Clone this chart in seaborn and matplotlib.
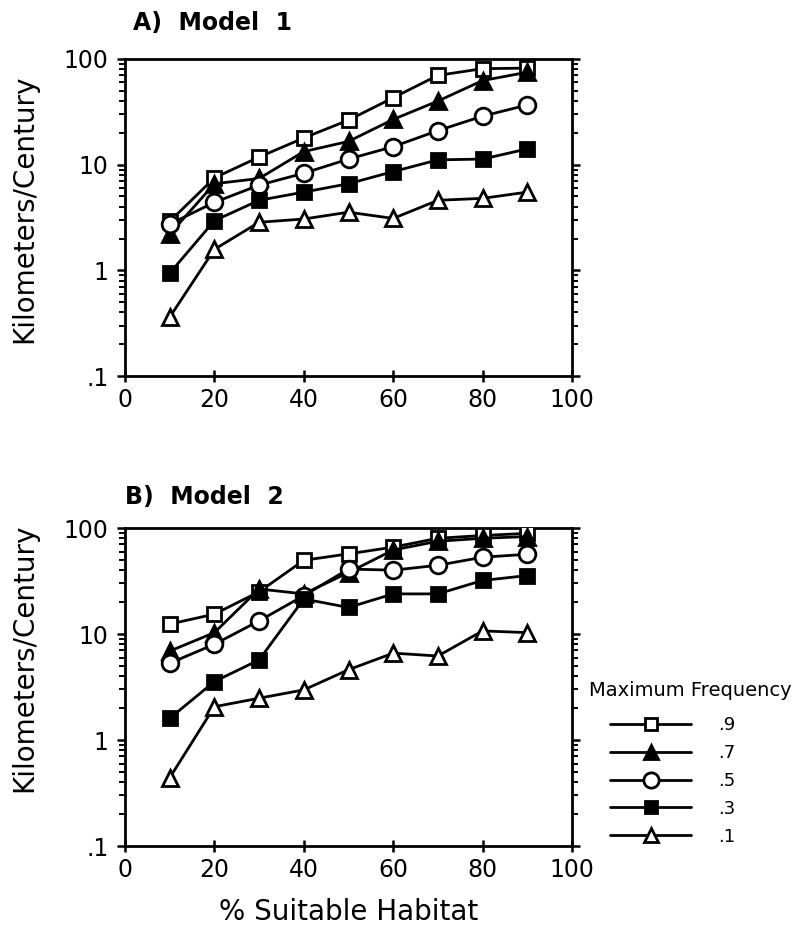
import numpy as np
import pandas as pd
import matplotlib
matplotlib.use("Agg")
import matplotlib.pyplot as plt
import seaborn as sns
from matplotlib.ticker import FixedLocator, FixedFormatter, LogLocator, NullFormatter
from matplotlib.lines import Line2D

# --- data ---
habitat = [10, 20, 30, 40, 50, 60, 70, 80, 90]
freq_labels = ['.9', '.7', '.5', '.3', '.1']

model1 = {
    '.9': [2.9, 7.5, 11.8, 17.9, 26.4, 43, 70, 81, 82],
    '.7': [2.2, 6.6, 7.4, 13.3, 16.6, 26.8, 40, 62.5, 75],
    '.5': [2.74, 4.4, 6.4, 8.3, 11.3, 14.8, 21, 28.8, 36.7],
    '.3': [0.94, 2.95, 4.6, 5.5, 6.6, 8.6, 11.1, 11.3, 14.1],
    '.1': [0.36, 1.58, 2.85, 3.06, 3.55, 3.1, 4.6, 4.8, 5.5],
}
model2 = {
    '.9': [12.4, 15.4, 25, 49.6, 57, 66, 80, 85, 89],
    '.7': [6.9, 10.3, 26.6, 23.9, 38, 62, 75, 80, 83],
    '.5': [5.3, 8.0, 13.3, 23, 41, 40, 44.5, 53, 56.5],
    '.3': [1.6, 3.56, 5.7, 21.4, 17.8, 23.9, 23.9, 32, 35.6],
    '.1': [0.44, 2.06, 2.48, 2.97, 4.6, 6.6, 6.2, 10.7, 10.3],
}

y_ticks = [0.1, 1, 10, 100]
y_ticklabels = ['.1', '1', '10', '100']
x_ticks = [0, 20, 40, 60, 80, 100]

# marker, face colour, size
STYLE = {
    '.9': ('s', 'white', 10),
    '.7': ('^', 'black', 11),
    '.5': ('o', 'white', 12),
    '.3': ('s', 'black', 10),
    '.1': ('^', 'white', 11),
}


def to_long(d):
    rows = []
    for f in freq_labels:
        for x, v in zip(habitat, d[f]):
            rows.append({'habitat': x, 'kmc': v, 'freq': f})
    return pd.DataFrame(rows)


sns.set_style('ticks')
plt.rcParams['font.family'] = ['DejaVu Sans']
plt.rcParams.update({
    'text.color': 'black', 'axes.labelcolor': 'black',
    'xtick.color': 'black', 'ytick.color': 'black',
    'axes.edgecolor': 'black',
})

fig = plt.figure(figsize=(7.96, 9.35), dpi=100)
W, H = 796, 935
ax_a = fig.add_axes([125 / W, 1 - 376 / H, 447 / W, 317 / H])
ax_b = fig.add_axes([125 / W, 1 - 846 / H, 447 / W, 318 / H])


def draw_panel(ax, data, title, title_x, title_y, ylab_y):
    df = to_long(data)
    for f in freq_labels:
        m, fc, ms = STYLE[f]
        sub = df[df['freq'] == f]
        sns.lineplot(data=sub, x='habitat', y='kmc', ax=ax, color='black',
                     marker=m, markerfacecolor=fc, markeredgecolor='black',
                     markeredgewidth=2.0, markersize=ms, linewidth=2.0,
                     legend=False, zorder=3)
    ax.set_yscale('log')
    ax.set_ylim(0.1, 100)
    ax.set_xlim(0, 100)
    ax.yaxis.set_major_locator(FixedLocator(y_ticks))
    ax.yaxis.set_major_formatter(FixedFormatter(y_ticklabels))
    ax.yaxis.set_minor_locator(LogLocator(base=10, subs=np.arange(2, 10)))
    ax.yaxis.set_minor_formatter(NullFormatter())
    ax.set_xticks(x_ticks)
    ax.tick_params(axis='y', which='both', direction='out', left=True, right=True,
                   labelsize=17, width=1.8, pad=6)
    ax.tick_params(axis='y', which='major', length=6)
    ax.tick_params(axis='y', which='minor', length=4, width=1.4)
    ax.tick_params(axis='x', direction='inout', length=9, width=1.8,
                   labelsize=17, pad=4, top=False)
    for s in ax.spines.values():
        s.set_visible(True)
        s.set_linewidth(2.0)
        s.set_color('black')
    ax.set_ylabel('Kilometers/Century', fontsize=20)
    ax.yaxis.set_label_coords(-0.195, ylab_y)
    ax.set_xlabel('')
    ax.text(title_x, title_y, title, transform=ax.transAxes, fontsize=17,
            fontweight='bold', ha='left', va='center')


draw_panel(ax_a, model1, 'A)  Model  1', 0.018, 1.114, 0.527)
draw_panel(ax_b, model2, 'B)  Model  2', 0.0, 1.097, 0.591)
ax_b.set_xlabel('% Suitable Habitat', fontsize=20, labelpad=12)

fig.text(690 / W, 1 - 690 / H, 'Maximum Frequency', ha='center', va='center',
         fontsize=14)
handles = []
for f in freq_labels:
    m, fc, ms = STYLE[f]
    handles.append(Line2D([], [], color='black', marker=m, markerfacecolor=fc,
                          markeredgecolor='black', markeredgewidth=2.0,
                          markersize=ms - 1, linewidth=2.0))
leg = fig.legend(handles, freq_labels, loc='upper left',
                 bbox_to_anchor=(610 / W, 1 - 716 / H),
                 frameon=False, fontsize=13, borderpad=0, borderaxespad=0,
                 handlelength=4.5, handletextpad=1.5, labelspacing=0.55)

fig.savefig('out.png', dpi=100)
